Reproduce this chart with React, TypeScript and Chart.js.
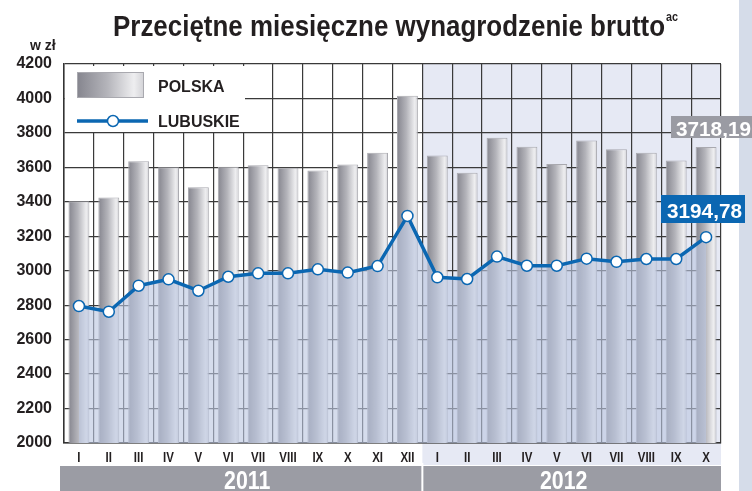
import React, { useEffect, useRef } from "react";
import { Chart, registerables } from "chart.js";

Chart.register(...registerables);

const months = ["I", "II", "III", "IV", "V", "VI", "VII", "VIII", "IX", "X", "XI", "XII", "I", "II", "III", "IV", "V", "VI", "VII", "VIII", "IX", "X"];
const years = ["2011", "2012"];
const yearSpans = [12, 10];
const polska = [3403.51, 3424.49, 3634.94, 3600.41, 3484.72, 3603.23, 3612.69, 3597.65, 3582.26, 3616.11, 3684.17, 4015.2, 3668.74, 3568.06, 3771.79, 3719.23, 3620.14, 3755.47, 3704.74, 3684.97, 3639.63, 3718.19];
const lubuskie = [2795, 2762, 2913, 2950, 2884, 2965, 2985, 2985, 3008, 2989, 3027, 3318, 2962, 2952, 3082, 3029, 3029, 3070, 3052, 3068, 3068, 3194.78];
const seriesNames = ["POLSKA", "LUBUSKIE"];
const title = "Przeciętne miesięczne wynagrodzenie brutto";
const titleSup = "ac";
const unitLabel = "w zł";
const yMin = 2000;
const yMax = 4200;
const yStep = 200;

const FONT = "'Liberation Sans', Arial, Helvetica, sans-serif";
const BLUE = "#0b67b2";
const BAND = "#9b9ca4";

function drawText(ctx: CanvasRenderingContext2D, s: string, x: number, y: number, font: string, color: string, align: CanvasTextAlign, sx = 1) {
  ctx.save();
  ctx.font = font;
  ctx.fillStyle = color;
  ctx.textBaseline = "alphabetic";
  ctx.textAlign = align;
  ctx.translate(x, y);
  ctx.scale(sx, 1);
  ctx.fillText(s, 0, 0);
  ctx.restore();
}

function fitText(ctx: CanvasRenderingContext2D, s: string, x: number, y: number, font: string, color: string, width: number) {
  ctx.save();
  ctx.font = font;
  const w = ctx.measureText(s).width;
  ctx.restore();
  drawText(ctx, s, x, y, font, color, "left", width / w);
}

function barGradient(ctx: CanvasRenderingContext2D, x0: number, x1: number) {
  const g = ctx.createLinearGradient(x0, 0, x1, 0);
  g.addColorStop(0, "#85858e");
  g.addColorStop(0.45, "#b4b4ba");
  g.addColorStop(0.85, "#eeeef0");
  g.addColorStop(1, "#d2d2d6");
  return g;
}

const decorPlugin = {
  id: "decor",
  beforeDraw(chart: any) {
    const { ctx, chartArea, scales } = chart;
    ctx.save();
    ctx.fillStyle = "#ffffff";
    ctx.fillRect(0, 0, chart.width, chart.height);
    ctx.fillStyle = "#d5dce9";
    ctx.fillRect(739, 0, chart.width - 739, chart.height);
    const xs = scales.x;
    const cw = xs.width / months.length;
    const bx = xs.left + yearSpans[0] * cw;
    ctx.fillStyle = "#e6e9f4";
    ctx.fillRect(bx, chartArea.top, chartArea.right - bx, 465 - chartArea.top);
    ctx.restore();
  },
  beforeDatasetsDraw(chart: any) {
    const { ctx, chartArea } = chart;
    ctx.save();
    ctx.fillStyle = "#ffffff";
    ctx.fillRect(chartArea.left + 1, chartArea.top + 2, 180, 66);
    ctx.fillStyle = barGradient(ctx, 77, 144);
    ctx.fillRect(77, 72, 67, 26);
    ctx.strokeStyle = "#a9a9af";
    ctx.lineWidth = 1;
    ctx.strokeRect(77.5, 72.5, 66, 25);
    ctx.strokeStyle = BLUE;
    ctx.lineWidth = 3.5;
    ctx.beginPath();
    ctx.moveTo(77, 121);
    ctx.lineTo(148, 121);
    ctx.stroke();
    ctx.beginPath();
    ctx.arc(113, 121, 5.5, 0, Math.PI * 2);
    ctx.fillStyle = "#ffffff";
    ctx.fill();
    ctx.lineWidth = 1.5;
    ctx.stroke();
    ctx.restore();
    drawText(ctx, seriesNames[0], 158, 92, `bold 16px ${FONT}`, "#231f20", "left");
    drawText(ctx, seriesNames[1], 158, 127, `bold 16px ${FONT}`, "#231f20", "left");
  },
  afterDraw(chart: any) {
    const { ctx, chartArea, scales } = chart;
    const xs = scales.x;
    const cw = xs.width / months.length;
    fitText(ctx, title, 113, 36, `bold 30px ${FONT}`, "#231f20", 552);
    drawText(ctx, titleSup, 666, 21, `bold 12px ${FONT}`, "#231f20", "left", 0.9);
    drawText(ctx, unitLabel, 30, 50, `bold 14px ${FONT}`, "#231f20", "left");
    months.forEach((m, i) => {
      const cx = xs.getPixelForValue(i);
      drawText(ctx, m, cx, 462, `bold 14px ${FONT}`, "#231f20", "center", 0.82);
    });
    ctx.save();
    ctx.fillStyle = BAND;
    ctx.fillRect(60, 466, chartArea.right - 60, chart.height - 466);
    const sep = xs.left + yearSpans[0] * cw;
    ctx.fillStyle = "#ffffff";
    ctx.fillRect(sep - 1, 463, 2, chart.height - 463);
    ctx.restore();
    let start = 60;
    let idx = 0;
    years.forEach((y, k) => {
      idx += yearSpans[k];
      const end = k === years.length - 1 ? chartArea.right : xs.left + idx * cw;
      drawText(ctx, y, (start + end) / 2 + (k === 0 ? 6 : -8), 489, `bold 26px ${FONT}`, "#ffffff", "center", 0.82);
      start = end;
    });
    const lastP = polska[polska.length - 1].toFixed(2).replace(".", ",");
    const lastL = lubuskie[lubuskie.length - 1].toFixed(2).replace(".", ",");
    ctx.save();
    ctx.fillStyle = "#9a9ba3";
    ctx.fillRect(671, 116, 81, 22);
    ctx.fillStyle = BLUE;
    ctx.fillRect(661, 195, 84, 28);
    ctx.restore();
    fitText(ctx, lastP, 676, 136, `bold 20px ${FONT}`, "#ffffff", 75);
    fitText(ctx, lastL, 667, 218, `bold 20px ${FONT}`, "#ffffff", 75);
  },
};

export default function App() {
  const ref = useRef<HTMLCanvasElement | null>(null);
  useEffect(() => {
    if (!ref.current) return;
    const chart = new Chart(ref.current, {
      type: "bar",
      data: {
        labels: months,
        datasets: [
          {
            type: "line",
            label: seriesNames[1],
            data: lubuskie,
            order: 1,
            borderColor: BLUE,
            borderWidth: 3.5,
            backgroundColor: "rgba(188,198,224,0.62)",
            fill: "start",
            tension: 0,
            pointRadius: 5.5,
            pointBackgroundColor: "#ffffff",
            pointBorderColor: BLUE,
            pointBorderWidth: 1.5,
          } as any,
          {
            type: "bar",
            label: seriesNames[0],
            data: polska,
            order: 2,
            barPercentage: 0.7,
            categoryPercentage: 1.0,
            borderWidth: 1,
            borderColor: "#a9a9af",
            backgroundColor: (c: any) => {
              const chart = c.chart;
              if (!chart.chartArea) return "#bbbbbb";
              const xs = chart.scales.x;
              const cx = xs.getPixelForValue(c.dataIndex);
              const w = (xs.width / months.length) * 0.7;
              return barGradient(chart.ctx, cx - w / 2, cx + w / 2);
            },
          } as any,
        ],
      },
      options: {
        responsive: false,
        animation: false,
        layout: { padding: { top: 64, right: 31, left: 0, bottom: 0 } },
        plugins: {
          legend: { display: false },
          tooltip: { enabled: false },
          title: { display: false },
        },
        scales: {
          x: {
            offset: true,
            grid: { display: true, offset: true, color: "#3a3a3a", lineWidth: 1.2, drawTicks: false },
            border: { display: true, color: "#333333", width: 1.5 },
            ticks: { display: false },
            afterFit: (s: any) => {
              s.height = 48;
            },
          },
          y: {
            min: yMin,
            max: yMax,
            grid: { color: "#3a3a3a", lineWidth: 1.2, drawTicks: false },
            border: { display: true, color: "#333333", width: 1.5 },
            ticks: {
              stepSize: yStep,
              padding: 12,
              color: "#231f20",
              font: { family: FONT, size: 16, weight: "bold" },
              callback: (v: any) => String(v),
            },
            afterFit: (s: any) => {
              s.width = 64;
            },
          },
        },
      },
      plugins: [decorPlugin],
    });
    return () => chart.destroy();
  }, []);
  return (
    <div style={{ position: "absolute", left: 0, top: 0, width: 752, height: 491, background: "#fff" }}>
      <canvas ref={ref} width={752} height={491} style={{ display: "block" }} />
    </div>
  );
}
